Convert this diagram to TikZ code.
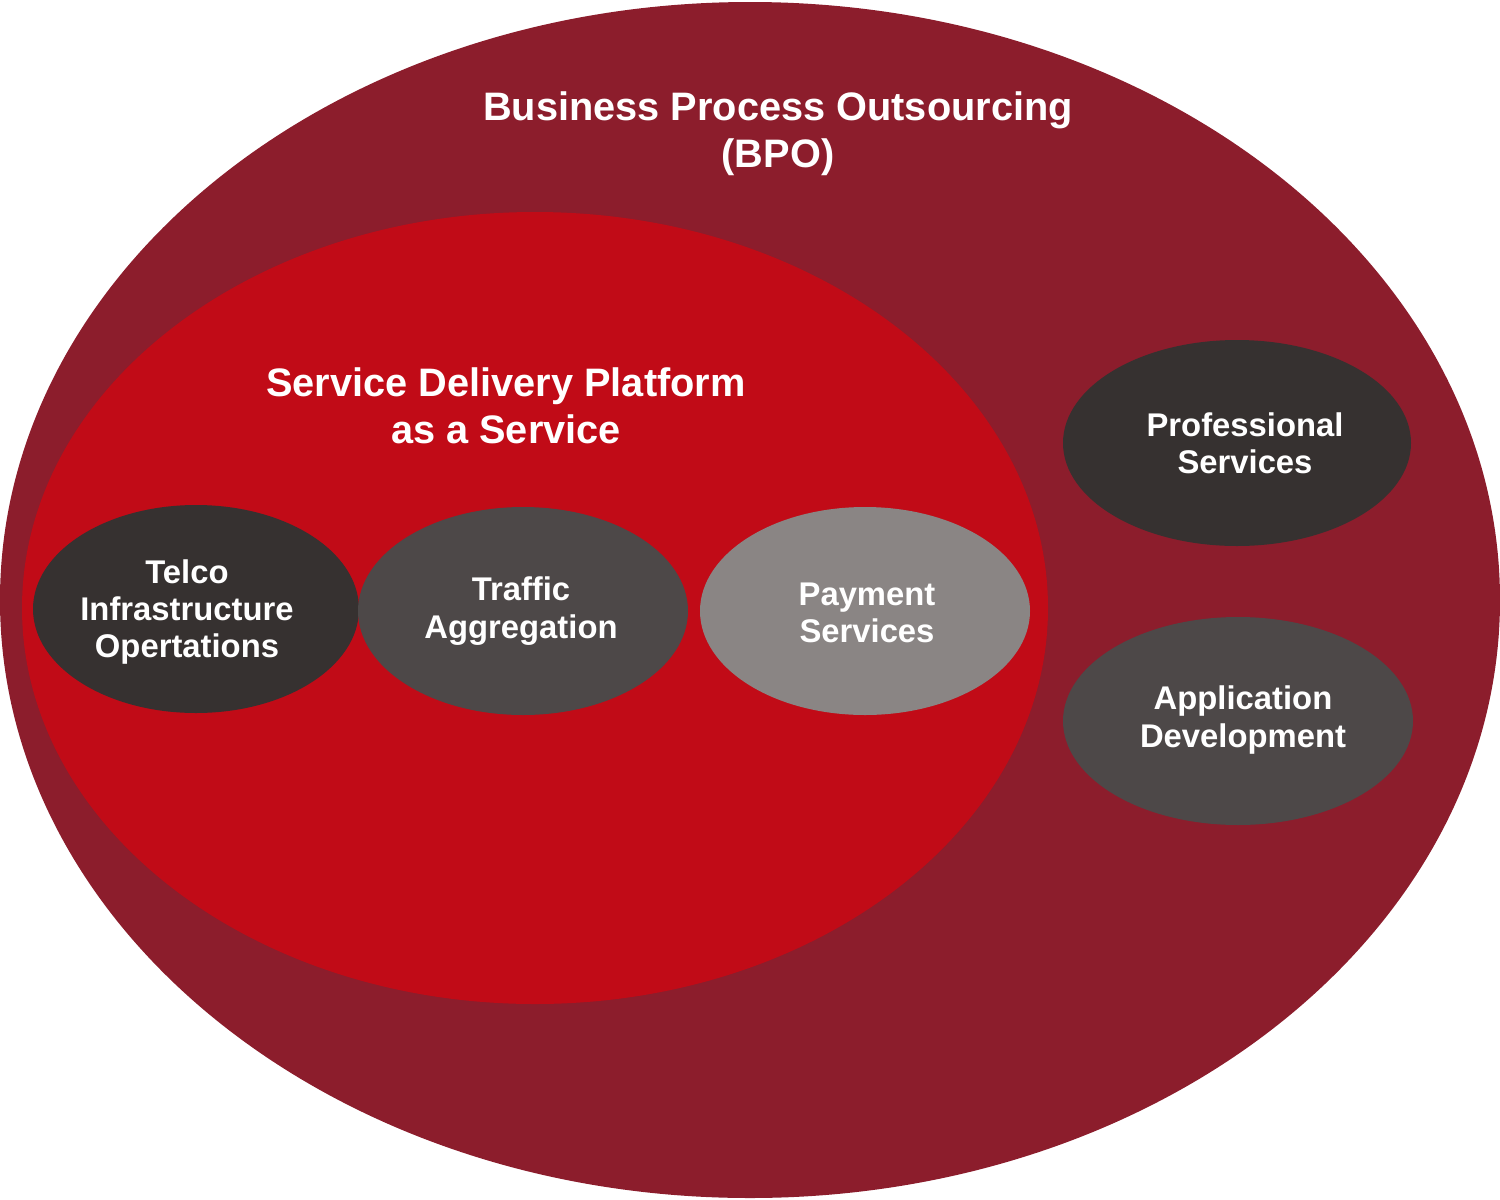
\documentclass[tikz,border=0pt]{standalone}
\usepackage{fontspec}
\setmainfont{Liberation Sans}
\definecolor{bpored}{RGB}{140,29,44}
\definecolor{sdpred}{RGB}{193,11,23}
\definecolor{darkgrey}{RGB}{54,49,48}
\definecolor{midgrey}{RGB}{77,72,72}
\definecolor{lightgrey}{RGB}{138,133,132}
\tikzset{
  bigtext/.style={text=white,align=center,font=\bfseries\fontsize{29.8}{35.5}\selectfont},
  smalltext/.style={text=white,align=center,font=\bfseries\fontsize{24.6}{28}\selectfont}
}
\begin{document}
\begin{tikzpicture}[x=0.75pt,y=0.75pt,yscale=-1,xscale=1]
\useasboundingbox (0,0) rectangle (1500,1200);
%Shape: Ellipse
\fill [bpored] (750,600) ellipse [x radius=750, y radius=598];
%Shape: Ellipse
\fill [sdpred] (535,608) ellipse [x radius=513, y radius=396];
%Shape: Ellipse
\fill [darkgrey] (196,609) ellipse [x radius=163, y radius=104];
%Shape: Ellipse
\fill [midgrey] (523,611) ellipse [x radius=165, y radius=104];
%Shape: Ellipse
\fill [lightgrey] (865,611) ellipse [x radius=165, y radius=104];
%Shape: Ellipse
\fill [darkgrey] (1237,443) ellipse [x radius=174, y radius=103];
%Shape: Ellipse
\fill [midgrey] (1238,721) ellipse [x radius=175, y radius=104];
% labels
\node [bigtext] (bpo) at (778,134) {Business Process Outsourcing\\(BPO)};
\node [bigtext] (sdp) at (506,406) {Service Delivery Platform\\as a Service};
\node [smalltext] (telco) at (187,612) {Telco\\Infrastructure\\Opertations};
\node [smalltext] (traffic) at (521,611) {Traffic\\Aggregation};
\node [smalltext] (payment) at (867,613) {Payment\\Services};
\node [smalltext] (prof) at (1245,443) {Professional\\Services};
\node [smalltext] (appdev) at (1243,720) {Application\\Development};
\end{tikzpicture}
\end{document}
